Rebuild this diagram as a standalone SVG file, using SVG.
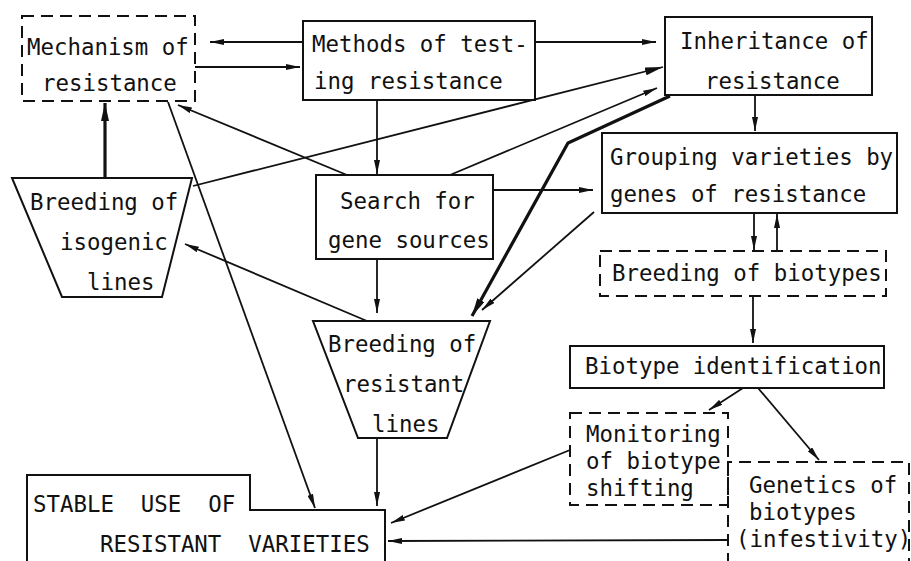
<svg xmlns="http://www.w3.org/2000/svg" width="911" height="561" viewBox="0 0 911 561">
<style>
  .bg{fill:#fff}
  .box{fill:none;stroke:#111;stroke-width:2}
  .dash{fill:none;stroke:#111;stroke-width:2;stroke-dasharray:12 7}
  .t{font-family:"DejaVu Sans Mono","Liberation Mono",monospace;font-size:22.4px;fill:#111}
  .c{fill:none;stroke:#111;stroke-width:1.8}
  .k{fill:none;stroke:#111;stroke-width:3.2}
</style>
<defs>
  <marker id="a" viewBox="0 0 14 6" refX="14" refY="3" markerWidth="14" markerHeight="6" orient="auto" markerUnits="userSpaceOnUse">
    <path d="M0,0 L14,3 L0,6 z" fill="#111"/>
  </marker>
  <marker id="b" viewBox="0 0 18 8" refX="18" refY="4" markerWidth="18" markerHeight="8" orient="auto" markerUnits="userSpaceOnUse">
    <path d="M0,0 L18,4 L0,8 z" fill="#111"/>
  </marker>
</defs>
<rect class="bg" x="0" y="0" width="911" height="561"/>

<g id="connectors">
  <path class="c" d="M303,42 L210,42" marker-end="url(#a)"/>
  <path class="c" d="M195,67 L300,67" marker-end="url(#a)"/>
  <path class="c" d="M535,42 L656,42" marker-end="url(#a)"/>
  <path class="c" d="M377,100 L377,174" marker-end="url(#a)"/>
  <path class="c" d="M347,175 L178,105" marker-end="url(#a)"/>
  <path class="k" d="M105,178 L105,103" marker-end="url(#b)"/>
  <path class="c" d="M193,186 L663,67" marker-end="url(#b)"/>
  <path class="c" d="M168,102 L315,508" marker-end="url(#a)"/>
  <path class="c" d="M450,175 L657,88" marker-end="url(#a)"/>
  <path class="k" d="M670,96 L568,143 L472,316" marker-end="url(#b)"/>
  <path class="c" d="M594,212 L482,310" marker-end="url(#a)"/>
  <path class="c" d="M493,190 L593,190" marker-end="url(#a)"/>
  <path class="c" d="M755,95 L755,131" marker-end="url(#a)"/>
  <path class="c" d="M377,259 L377,313" marker-end="url(#a)"/>
  <path class="c" d="M367,321 L185,244" marker-end="url(#a)"/>
  <path class="c" d="M754,213 L754,250" marker-end="url(#a)"/>
  <path class="c" d="M777,251 L777,214" marker-end="url(#a)"/>
  <path class="c" d="M753,296 L753,343" marker-end="url(#a)"/>
  <path class="c" d="M743,388 L709,410" marker-end="url(#a)"/>
  <path class="c" d="M758,388 L819,460" marker-end="url(#a)"/>
  <path class="c" d="M570,450 L391,523" marker-end="url(#a)"/>
  <path class="c" d="M728,540 L388,541" marker-end="url(#a)"/>
  <path class="c" d="M377,438 L377,506" marker-end="url(#a)"/>
</g>

<g id="mechanism">
  <rect class="dash" x="22" y="16" width="173" height="85"/>
  <text class="t" x="27" y="55">Mechanism of</text>
  <text class="t" x="42" y="91">resistance</text>
</g>

<g id="methods">
  <rect class="box" x="303" y="21" width="232" height="79"/>
  <text class="t" x="312" y="52">Methods of test-</text>
  <text class="t" x="314" y="89">ing resistance</text>
</g>

<g id="inheritance">
  <rect class="box" x="665" y="17" width="207" height="78"/>
  <text class="t" x="680" y="49">Inheritance of</text>
  <text class="t" x="705" y="89">resistance</text>
</g>

<g id="grouping">
  <rect class="box" x="602" y="133" width="295" height="80"/>
  <text class="t" x="610" y="165">Grouping varieties by</text>
  <text class="t" x="610" y="202">genes of resistance</text>
</g>

<g id="search">
  <rect class="box" x="316" y="175" width="177" height="84"/>
  <text class="t" x="340" y="209">Search for</text>
  <text class="t" x="328" y="248">gene sources</text>
</g>

<g id="isogenic">
  <path class="box" d="M12,178 L192,178 L162,297 L62,297 Z"/>
  <text class="t" x="30" y="210">Breeding of</text>
  <text class="t" x="60" y="250">isogenic</text>
  <text class="t" x="87" y="290">lines</text>
</g>

<g id="biotypes">
  <rect class="dash" x="600" y="251" width="286" height="45"/>
  <text class="t" x="612" y="281">Breeding of biotypes</text>
</g>

<g id="resistant">
  <path class="box" d="M313,321 L490,321 L447,438 L358,438 Z"/>
  <text class="t" x="328" y="352">Breeding of</text>
  <text class="t" x="343" y="392">resistant</text>
  <text class="t" x="372" y="432">lines</text>
</g>

<g id="identification">
  <rect class="box" x="570" y="346" width="314" height="42"/>
  <text class="t" x="585" y="374">Biotype identification</text>
</g>

<g id="monitoring">
  <rect class="dash" x="570" y="413" width="158" height="92"/>
  <text class="t" x="586" y="442">Monitoring</text>
  <text class="t" x="586" y="469">of biotype</text>
  <text class="t" x="586" y="496">shifting</text>
</g>

<g id="genetics">
  <path class="dash" d="M728,565 L728,462 L909,462 L909,565"/>
  <text class="t" x="749" y="493">Genetics of</text>
  <text class="t" x="749" y="520">biotypes</text>
  <text class="t" x="736" y="547">(infestivity)</text>
</g>

<g id="stable">
  <path class="box" d="M27,565 L27,475 L250,475 L250,510 L385,510 L385,565"/>
  <text class="t" x="33" y="512" xml:space="preserve">STABLE  USE  OF</text>
  <text class="t" x="100" y="552" xml:space="preserve">RESISTANT  VARIETIES</text>
</g>
</svg>
